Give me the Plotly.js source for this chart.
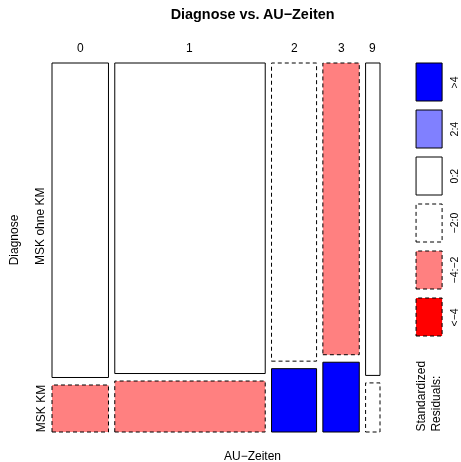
<!DOCTYPE html>
<html><head><meta charset="utf-8">
<script src="https://cdn.plot.ly/plotly-3.0.1.min.js"></script>
<style>html,body{margin:0;padding:0;background:#fff}#chart{width:461px;height:462px}</style>
</head><body><div id="chart"></div>
<script>
// ---- data ----
const auZeiten = ["0", "1", "2", "3", "9"];
const diagnose = ["MSK ohne KM", "MSK KM"];
const countsOhneKM = [4543, 11951, 3436, 2718, 1152];
const countsKM = [679, 1962, 730, 650, 181];
const legendLabels = [">4", "2:4", "0:2", "\u22122:0", "\u22124:\u22122", "<\u22124"];

// ---- styles ----
const FONT = "Liberation Sans, Arial, Helvetica, sans-serif";
const classFill = ["#0000FF", "#8080FF", "#FFFFFF", "#FFFFFF", "#FF8080", "#FF0000"];
const classDash = ["solid", "solid", "solid", "4px,3px", "4px,3px", "4px,3px"];
const LINE = "#000000";

// ---- page geometry ----
const W = 461, H = 462;
const L = 52.3, R = 379.7, T = 63.3, B = 432.3, PAD = 2;
const gx = 0.0208, gy = 0.02075;
const ml = L - PAD, mr = W - R - PAD, mt = T - PAD, mb = H - B - PAD;
const pw = W - ml - mr, ph = H - mt - mb;
const xTot = 1 + (auZeiten.length - 1) * gx, yTot = 1 + gy;
const xPerPx = xTot / (R - L), yPerPx = yTot / (B - T);
const px2paperX = p => (p - ml) / pw;
const px2paperY = p => 1 - (p - mt) / ph;

// ---- residuals (Pearson, independence) ----
const colTot = auZeiten.map((_, j) => countsOhneKM[j] + countsKM[j]);
const N = colTot.reduce((a, b) => a + b, 0);
const rowTot = [countsOhneKM.reduce((a, b) => a + b, 0), countsKM.reduce((a, b) => a + b, 0)];
function resid(o, r, c) { const e = rowTot[r] * colTot[c] / N; return (o - e) / Math.sqrt(e); }
function cls(r) {
  if (r > 4) return 0; if (r > 2) return 1; if (r >= 0) return 2;
  if (r >= -2) return 3; if (r >= -4) return 4; return 5;
}

const shapes = [], annotations = [];
let x = 0;
const cx = [], cy = [];
auZeiten.forEach((lab, j) => {
  const w = colTot[j] / N;
  const fKM = countsKM[j] / colTot[j];
  const cells = [
    {y0: fKM + gy, y1: yTot, o: countsOhneKM[j], r: 0},
    {y0: 0, y1: fKM, o: countsKM[j], r: 1}
  ];
  cells.forEach(c => {
    const k = cls(resid(c.o, c.r, j));
    shapes.push({type: "rect", xref: "x", yref: "y", x0: x, x1: x + w, y0: c.y0, y1: c.y1,
      fillcolor: classFill[k], line: {color: LINE, width: 1, dash: classDash[k]}, layer: "above"});
    cx.push(x + w / 2); cy.push((c.y0 + c.y1) / 2);
  });
  annotations.push({text: lab, xref: "x", yref: "paper", x: x + w / 2, y: px2paperY(48),
    showarrow: false, xanchor: "center", yanchor: "middle", font: {size: 12, family: FONT, color: "#000"}});
  if (j === 0) {
    annotations.push({text: diagnose[0], xref: "paper", yref: "y", x: px2paperX(41), y: (fKM + gy + yTot) / 2 - 6 * yPerPx,
      textangle: -90, showarrow: false, xanchor: "center", yanchor: "middle", font: {size: 12, family: FONT, color: "#000"}});
    annotations.push({text: diagnose[1], xref: "paper", yref: "y", x: px2paperX(41), y: fKM / 2,
      textangle: -90, showarrow: false, xanchor: "center", yanchor: "middle", font: {size: 12, family: FONT, color: "#000"}});
  }
  x += w + gx;
});

// legend
legendLabels.forEach((lab, i) => {
  const top = 63.3 + 47 * i, bot = top + 38;
  shapes.push({type: "rect", xref: "paper", yref: "paper", x0: px2paperX(415.7), x1: px2paperX(441.7),
    y0: px2paperY(bot), y1: px2paperY(top), fillcolor: classFill[i],
    line: {color: LINE, width: 1, dash: classDash[i]}});
  annotations.push({text: lab, xref: "paper", yref: "paper", x: px2paperX(454), y: px2paperY((top + bot) / 2),
    textangle: -90, showarrow: false, xanchor: "center", yanchor: "middle", font: {size: 10.5, family: FONT, color: "#000"}});
});
annotations.push({text: "Standardized", xref: "paper", yref: "paper", x: px2paperX(421), y: px2paperY(434),
  textangle: -90, showarrow: false, xanchor: "center", yanchor: "bottom", font: {size: 12, family: FONT, color: "#000"}});
annotations.push({text: "Residuals:", xref: "paper", yref: "paper", x: px2paperX(435.5), y: px2paperY(434),
  textangle: -90, showarrow: false, xanchor: "center", yanchor: "bottom", font: {size: 12, family: FONT, color: "#000"}});
// axis titles
annotations.push({text: "Diagnose", xref: "paper", yref: "paper", x: px2paperX(14), y: px2paperY(240),
  textangle: -90, showarrow: false, xanchor: "center", yanchor: "middle", font: {size: 12, family: FONT, color: "#000"}});
annotations.push({text: "AU\u2212Zeiten", xref: "paper", yref: "paper", x: px2paperX(252.5), y: px2paperY(456),
  showarrow: false, xanchor: "center", yanchor: "middle", font: {size: 12, family: FONT, color: "#000"}});

const layout = {
  width: W, height: H,
  margin: {l: ml, r: mr, t: mt, b: mb, pad: 0},
  paper_bgcolor: "#fff", plot_bgcolor: "#fff",
  title: {text: "<b>Diagnose vs. AU\u2212Zeiten</b>", x: px2paperX(252.5), xref: "paper", xanchor: "center",
    y: 1 - 14 / H, yref: "container", yanchor: "middle", font: {size: 14.4, family: FONT, color: "#000"}},
  xaxis: {range: [-PAD * xPerPx, xTot + PAD * xPerPx], visible: false, showgrid: false, zeroline: false, fixedrange: true},
  yaxis: {range: [-PAD * yPerPx, yTot + PAD * yPerPx], visible: false, showgrid: false, zeroline: false, fixedrange: true},
  shapes: shapes, annotations: annotations, showlegend: false
};
Plotly.newPlot("chart", [{type: "scatter", mode: "markers", x: cx, y: cy, opacity: 0, hoverinfo: "skip", showlegend: false}],
  layout, {staticPlot: true, displayModeBar: false});
</script></body></html>
